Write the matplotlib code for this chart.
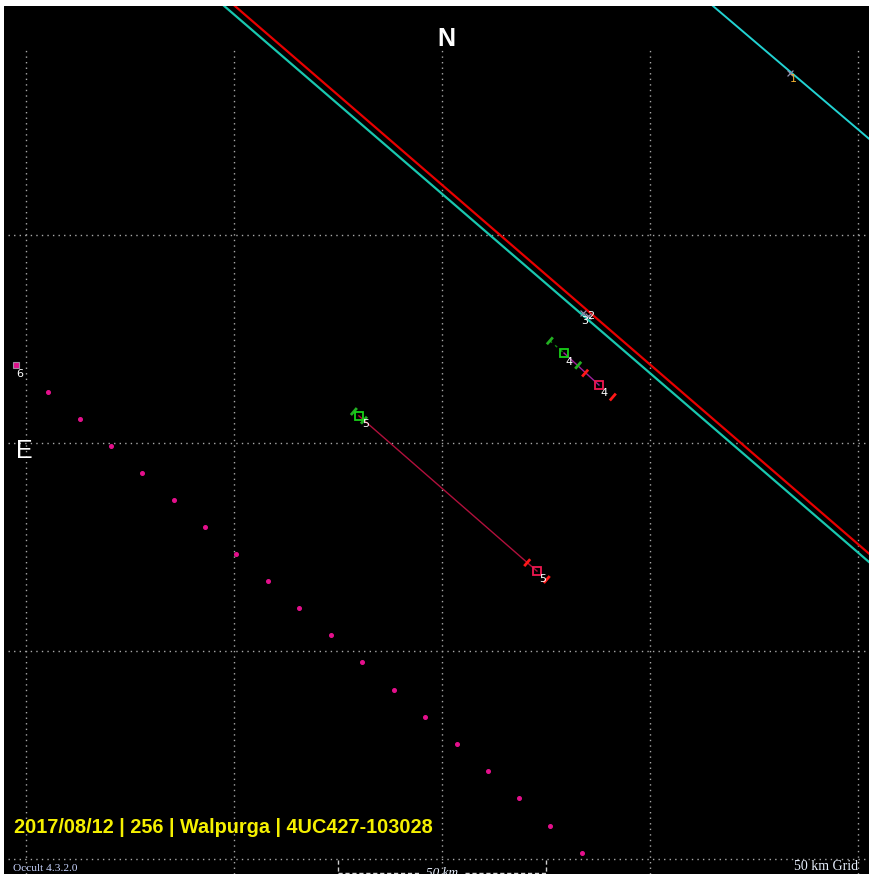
import matplotlib

matplotlib.use("Agg")
import matplotlib.pyplot as plt
import numpy as np

# km on the sky plane, centre of plot = (0, 0); x to the right, y up
GRID_KM = [-100, -50, 0, 50, 100]

# observer tracks (two points on each line, extended past the frame)
RED_X = [-60.0, 110.0]
RED_Y = [113.8, -33.0]
CYAN_X = [-62.0, 110.0]
CYAN_Y = [113.3, -35.0]
CYAN1_X = [55.0, 110.0]
CYAN1_Y = [113.6, 66.8]

# miss / station markers
CROSS_X = [83.6, 33.9, 35.1]
CROSS_Y = [88.9, 31.3, 30.5]

# chords: disappearance / reappearance points
CHORD_ID = ["4", "5"]
D_X = [29.3, -20.0]
D_Y = [21.6, 6.5]
R_X = [37.7, 22.8]
R_Y = [13.9, -30.8]
D_ERR = [4.5, 1.6]   # km along track
R_ERR = [4.4, 3.1]

# station 6: cloud / no-data dotted track
S6_X = [-102.4]
S6_Y = [18.7]
DOT_X = [-94.7, -87.0, -79.6, -72.1, -64.4, -57.0, -49.5, -41.8, -34.4, -26.7,
         -19.2, -11.5, -4.1, 3.6, 11.1, 18.5, 26.0, 33.7]
DOT_Y = [12.3, 5.8, -0.7, -7.2, -13.7, -20.2, -26.7, -33.2, -39.7, -46.2,
         -52.6, -59.4, -65.9, -72.4, -78.9, -85.3, -92.1, -98.6]

# station number labels
LABELS = ["1", "2", "3", "4", "4", "5", "5", "6"]
LABEL_X = [84.3, 35.6, 34.3, 30.6, 39.0, -18.3, 24.1, -101.4]
LABEL_Y = [87.4, 30.6, 29.3, 19.5, 12.1, 4.6, -32.8, 16.6]

TITLE = "2017/08/12 | 256 | Walpurga | 4UC427-103028"


def main() -> None:
    fig = plt.figure(figsize=(8.69, 8.74), dpi=100, facecolor="white")
    ax = fig.add_axes([4 / 869, 0, 865 / 869, 868 / 874])
    ax.set_facecolor("black")
    ax.set_xlim(-105.3, 102.6)
    ax.set_ylim(-103.6, 105.0)
    ax.axis("off")
    ax.add_patch(plt.Rectangle((0, 0), 1, 1, transform=ax.transAxes, color="black", zorder=0))

    grid_kw = dict(colors="#a8a8a8", linestyles=(0, (1, 3)), linewidths=1.0, zorder=1)
    ax.vlines(GRID_KM, -103.6, 94.5, **grid_kw)
    ax.hlines(GRID_KM[:-1], -104.3, 102.6, **grid_kw)

    ax.plot(RED_X, RED_Y, color="#e80000", lw=1.6, zorder=3)
    ax.plot(CYAN_X, CYAN_Y, color="#18c8b0", lw=1.6, zorder=3)
    ax.plot(CYAN1_X, CYAN1_Y, color="#22d2d2", lw=1.4, zorder=3)
    ax.scatter(CROSS_X, CROSS_Y, marker="x", s=18, color="#9090b0", lw=0.9, zorder=4)

    # along-track and cross-track unit vectors
    u = np.array([1.0, -0.863])
    u /= np.hypot(*u)
    p = np.array([-u[1], u[0]])
    h = 1.1
    for i, cid in enumerate(CHORD_ID):
        d = np.array([D_X[i], D_Y[i]])
        r = np.array([R_X[i], R_Y[i]])
        line_col = "#a0209a" if cid == "4" else "#b0103c"
        ax.plot([d[0], r[0]], [d[1], r[1]], color=line_col, lw=1.0, zorder=4)
        for c, err, col in [(d, D_ERR[i], "#22b022"), (r, R_ERR[i], "#ff1818")]:
            for s in (-1, 1):
                m = c + s * err * u
                ax.plot([m[0] - h * p[0], m[0] + h * p[0]], [m[1] - h * p[1], m[1] + h * p[1]],
                        color=col, lw=2.0, zorder=5, solid_capstyle="butt")
        g1 = d - D_ERR[i] * u
        ax.plot([g1[0], d[0]], [g1[1], d[1]], color="#108a10", lw=1.0, ls=(0, (2, 3)), zorder=4)
        ax.plot(d[0], d[1], marker="s", ms=5.5, mfc="none", mec="#18d018", mew=1.3, zorder=6)
        ax.plot(r[0], r[1], marker="s", ms=5.5, mfc="none", mec="#f01850", mew=1.3, zorder=6)

    ax.plot(S6_X, S6_Y, marker="s", ms=4, mfc="#e0108c", mec="#a08aa0", mew=0.8, ls="none", zorder=5)
    ax.plot(DOT_X, DOT_Y, marker="o", ms=2.6, color="#e4108c", ls="none", zorder=5)

    for lab, x, y in zip(LABELS, LABEL_X, LABEL_Y):
        col = "#f0b030" if lab == "1" else "white"
        ax.text(x, y, lab, color=col, fontsize=8, ha="center", va="center", zorder=7)

    ax.text(1.0, 97.0, "N", color="white", fontsize=18, fontweight="bold", ha="center", va="center",
            family="Liberation Sans")
    ax.text(-100.5, -1.9, "E", color="white", fontsize=18, ha="center", va="center",
            family="Liberation Sans")

    ax.text(-102.8, -92.4, TITLE, color="#f5f000", fontsize=14.3, fontweight="bold",
            ha="left", va="center", family="Liberation Sans")

    ax.text(-103.2, -102.2, "Occult 4.3.2.0", color="#c8d4ff", fontsize=8.2, ha="left", va="center",
            family="Liberation Serif")
    ax.text(100.0, -101.8, "50 km Grid", color="#e8f0ff", fontsize=10, ha="right", va="center",
            family="Liberation Serif")

    # 50 km scale bracket
    sb = dict(color="#d0d0d0", lw=1.0, ls=(0, (3, 2)), zorder=4)
    ax.plot([-25, -25], [-100.2, -103.4], **sb)
    ax.plot([25, 25], [-100.2, -103.4], **sb)
    ax.plot([-25, -5.0], [-103.3, -103.3], **sb)
    ax.plot([5.5, 25], [-103.3, -103.3], **sb)
    ax.text(0.0, -103.3, "50 km", color="#e8f0ff", fontsize=9.5, ha="center", va="center",
            family="Liberation Serif", fontstyle="italic")

    fig.savefig("out.png", dpi=100, facecolor="white")


if __name__ == "__main__":
    main()
